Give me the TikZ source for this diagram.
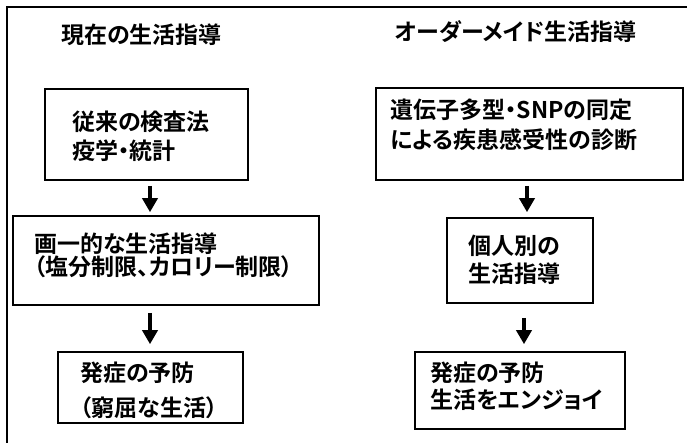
\documentclass[tikz,border=0pt]{standalone}
\usepackage{fontspec}
\setmainfont{Noto Sans CJK JP}[BoldFont=* Bold,RawFeature=+palt]
\usetikzlibrary{arrows.meta}
\begin{document}
\begin{tikzpicture}[x=1pt,y=-1pt,
  box/.style={draw=black,line width=1.6pt,inner sep=0pt},
  txt/.style={anchor=west,align=left,inner sep=0pt,font=\fontsize{23}{28.5}\selectfont\bfseries},
  ttl/.style={anchor=west,inner sep=0pt,font=\fontsize{23}{26}\selectfont\bfseries},
  arr/.style={line width=3.5pt,-{Triangle[width=15pt,length=14pt]}}]
\useasboundingbox (0,0) rectangle (687,443);
\draw[line width=1.5pt] (7,443) -- (7,7) -- (687,7);
% titles
\node[ttl] (tl) at (61,35) {現在の生活指導};
\node[ttl] (tr) at (395,32) {オーダーメイド生活指導};
% left boxes
\node[box,minimum width=203pt,minimum height=91pt] (L1) at (146.5,134.5) {};
\node[box,minimum width=306pt,minimum height=89pt] (L2) at (166,260.5) {};
\node[box,minimum width=185pt,minimum height=71pt] (L3) at (150.5,387.5) {};
\node[txt] (tL1) at (72,136.5) {従来の検査法\\疫学・統計};
\node[txt] (tL2) at (34,255) {画一的な生活指導\\[-5.5pt]（塩分制限、カロリー制限）};
\node[txt] (tL3) at (80,390.5) {発症の予防\\[6.5pt]（窮屈な生活）};
% right boxes
\node[box,minimum width=307pt,minimum height=92pt] (R1) at (529.5,134) {};
\node[box,minimum width=146pt,minimum height=85pt] (R2) at (520,260.5) {};
\node[box,minimum width=210pt,minimum height=77pt] (R3) at (520,390.5) {};
\node[txt] (tR1) at (390,125) {遺伝子多型・SNPの同定\\[1.5pt]による疾患感受性の診断};
\node[txt] (tR2) at (468,260) {個人別の\\生活指導};
\node[txt] (tR3) at (430,386) {発症の予防\\[-1pt]生活をエンジョイ};
% arrows
\coordinate (ax1) at (150,0);
\coordinate (ax2) at (150,0);
\coordinate (ax3) at (527,0);
\coordinate (ax4) at (524,0);
\draw[arr,shorten <=5pt,shorten >=3pt] (L1.south -| ax1) -- (L2.north -| ax1);
\draw[arr,shorten <=7pt,shorten >=7pt] (L2.south -| ax2) -- (L3.north -| ax2);
\draw[arr,shorten <=5pt,shorten >=5pt] (R1.south -| ax3) -- (R2.north -| ax3);
\draw[arr,shorten <=14pt,shorten >=7pt] (R2.south -| ax4) -- (R3.north -| ax4);
\end{tikzpicture}
\end{document}
